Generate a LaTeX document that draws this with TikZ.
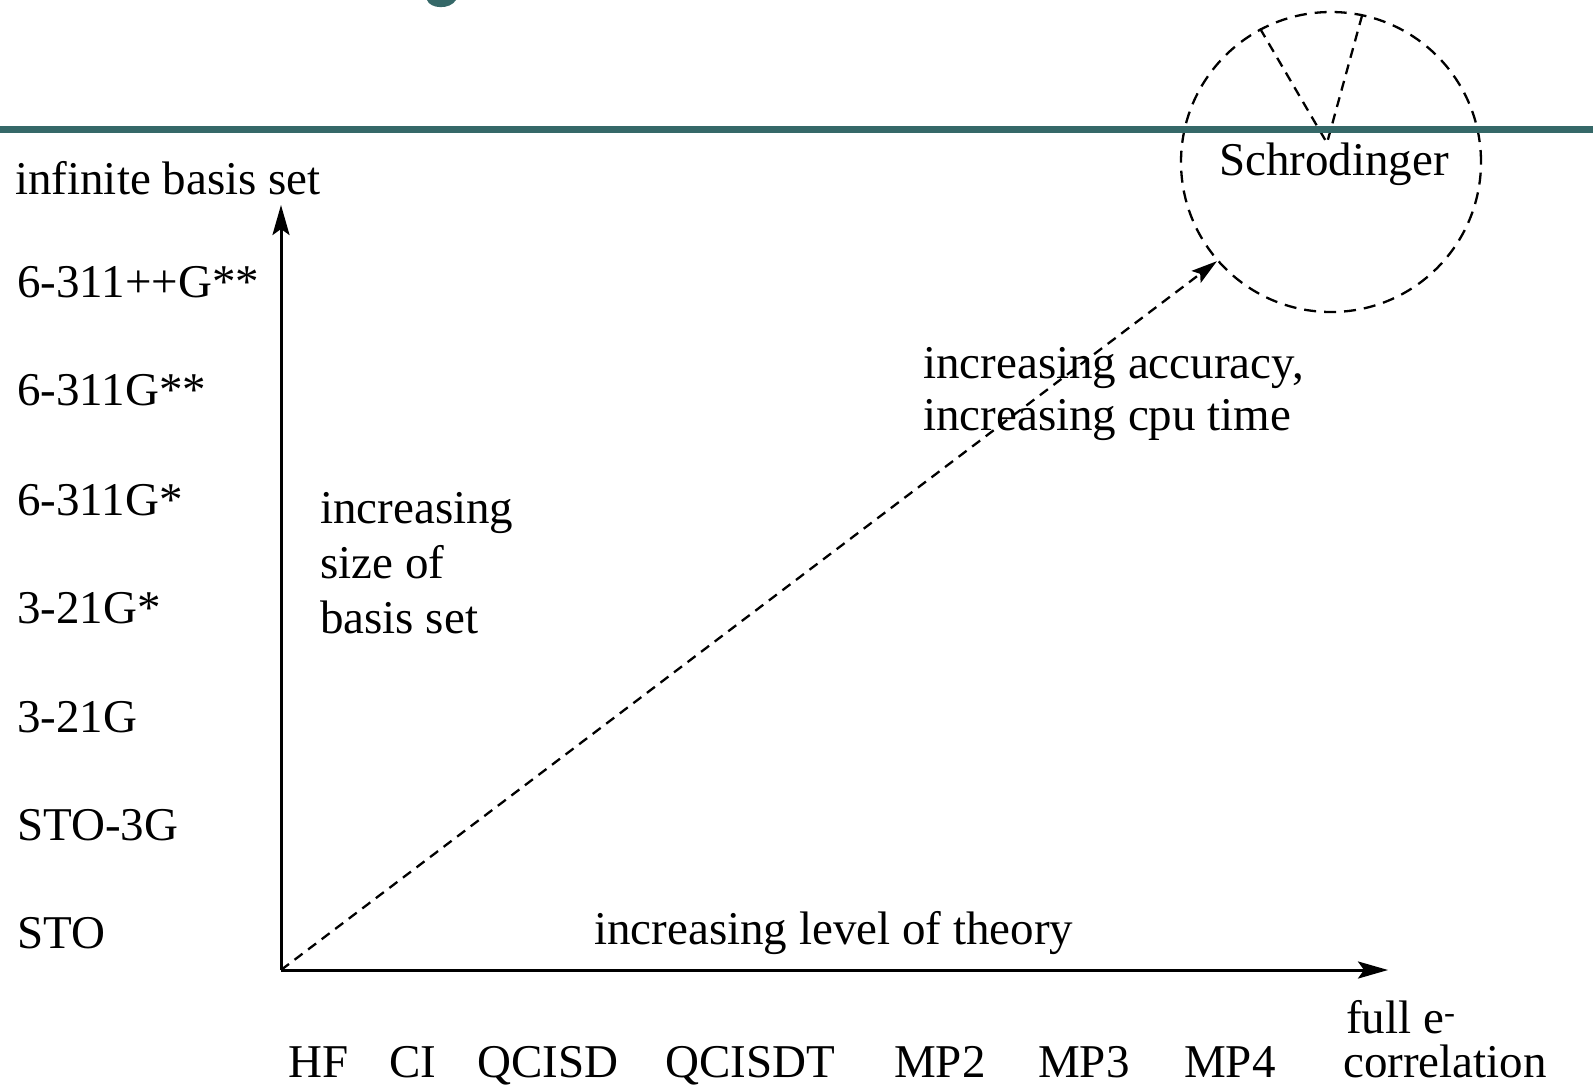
\documentclass[tikz,border=0pt]{standalone}
\usepackage{fontspec}
\setmainfont{Liberation Serif}
\usetikzlibrary{arrows.meta}
\definecolor{tealband}{HTML}{356868}
\begin{document}
\begin{tikzpicture}[x=1pt,y=-1pt,
  lbl/.style={inner sep=0pt, anchor=base west, font=\fontsize{47}{52}\selectfont},
  axisarrow/.style={line width=3pt, -{Stealth[length=30pt,width=17pt,inset=6pt]}},
  dsh/.style={line width=2.3pt, dash pattern=on 10pt off 7pt}]
\useasboundingbox (0,0) rectangle (1593,1085);
% title remnant and band
\fill[tealband] (427,0) .. controls (430,9) and (450,10) .. (456,0) -- cycle;
% Schrodinger circle
\node[draw, circle, line width=2.3pt, dash pattern=on 12pt off 8pt, minimum size=300pt, inner sep=0pt] (schr) at (1331,162) {};
\coordinate (vtip) at (1327,143);
\draw[dsh] (schr.118) -- (vtip) -- (schr.78);
\fill[tealband] (0,126) rectangle (1593,133);
\node[lbl] (schrlbl) at (1219,175) {Schrodinger};
% axes
\coordinate (O) at (281,970);
\coordinate (ytip) at (281,205);
\coordinate (xtip) at (1388,970);
\draw[axisarrow] (O) -- (ytip);
\draw[axisarrow] (O) -- (xtip);
\draw[dsh, -{Stealth[length=26pt,width=15pt,inset=5pt]}] (O) -- (schr.221);
% y labels
\node[lbl] (inf) at (15,194) {infinite basis set};
\node[lbl] (b7) at (17,297) {6-311++G**};
\node[lbl] (b6) at (17,405) {6-311G**};
\node[lbl] (b5) at (17,515) {6-311G*};
\node[lbl] (b4) at (17,623) {3-21G*};
\node[lbl] (b3) at (17,732) {3-21G};
\node[lbl] (b2) at (17,840) {STO-3G};
\node[lbl] (b1) at (17,948) {STO};
% inner labels
\node[lbl] (s1) at (320,523) {increasing};
\node[lbl] (s2) at (320,578) {size of};
\node[lbl] (s3) at (320,633) {basis set};
\node[lbl] (a1) at (923,378) {increasing accuracy,};
\node[lbl] (a2) at (923,430) {increasing cpu time};
\node[lbl] (lev) at (594,944) {increasing level of theory};
% x labels
\node[lbl] (hf) at (288,1077) {HF};
\node[lbl] (ci) at (389,1077) {CI};
\node[lbl] (q1) at (477,1077) {QCISD};
\node[lbl] (q2) at (665,1077) {QCISDT};
\node[lbl] (m2) at (894,1077) {MP2};
\node[lbl] (m3) at (1038,1077) {MP3};
\node[lbl] (m4) at (1184,1077) {MP4};
\node[lbl] (fe) at (1346,1033) {full e\textsuperscript{-}};
\node[lbl] (corr) at (1343,1077) {correlation};
\end{tikzpicture}
\end{document}
